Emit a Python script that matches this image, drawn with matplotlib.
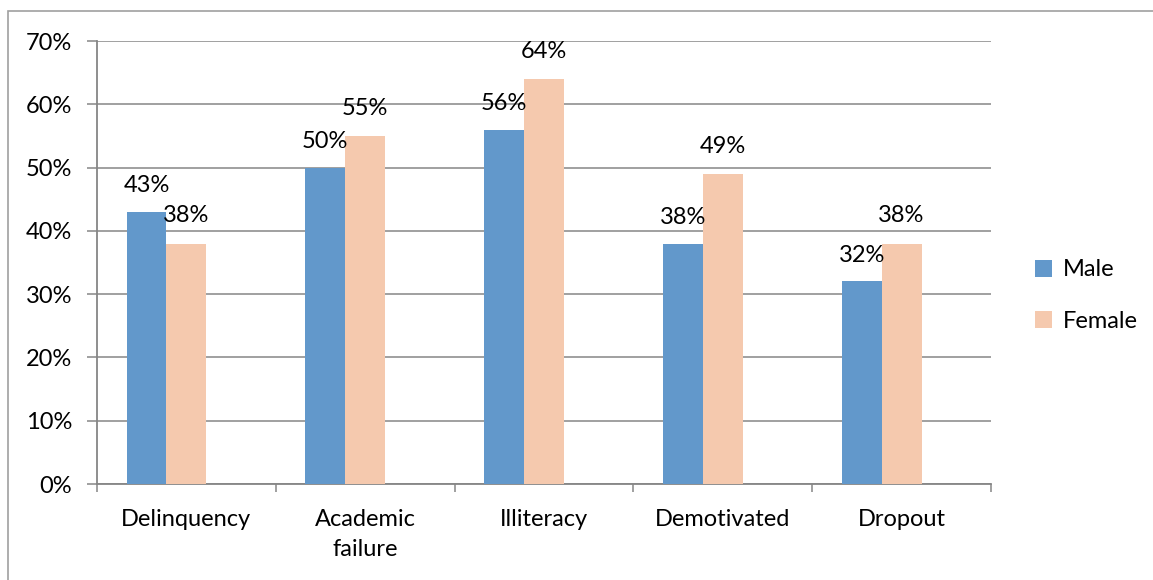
import matplotlib.pyplot as plt
from matplotlib.patches import Rectangle
import numpy as np

categories = ["Delinquency", "Academic\nfailure", "Illiteracy", "Demotivated", "Dropout"]
male = [43, 50, 56, 38, 32]
female = [38, 55, 64, 49, 38]
yticks = [0, 10, 20, 30, 40, 50, 60, 70]

plt.rcParams["font.family"] = ["Lato", "DejaVu Sans"]

fig = plt.figure(figsize=(11.53, 5.80), dpi=100)
ax = fig.add_axes([0.0841, 0.1655, 0.7754, 0.7638])

# outer chart frame (only top/left visible in the reference)
fig.patches.append(Rectangle((8 / 1153, -0.1), 1.2, 1 - 11 / 580 + 0.1,
                             transform=fig.transFigure, fill=False,
                             edgecolor="#a0a0a0", linewidth=1.2))

x = np.arange(len(categories))
w = 0.223
grey = "#868686"
fs = 17

ax.bar(x - w, male, width=w, color="#6298CB", label="Male", zorder=3)
ax.bar(x, female, width=w, color="#F5C9AE", label="Female", zorder=3)

for xi, v in zip(x - w, male):
    ax.annotate(f"{v}%", (xi, v), xytext=(0, 19), textcoords="offset points",
                ha="center", va="center", fontsize=fs, zorder=4)
for xi, v in zip(x, female):
    ax.annotate(f"{v}%", (xi, v), xytext=(0, 20), textcoords="offset points",
                ha="center", va="center", fontsize=fs, zorder=4)

ax.set_xlim(-0.5, len(categories) - 0.5)
ax.set_ylim(0, 70)
ax.set_yticks(yticks)
ax.set_yticklabels([f"{t}%" for t in yticks], fontsize=fs)
ax.yaxis.grid(True, color=grey, linewidth=1.1, zorder=0)

ax.set_xticks(x)
ax.set_xticklabels(categories, fontsize=fs, linespacing=1.55)
ax.set_xticks(np.arange(-0.5, len(categories)), minor=True)
ax.tick_params(axis="x", which="major", length=0, pad=18)
ax.tick_params(axis="x", which="minor", length=6, color=grey, width=1.1)
ax.tick_params(axis="y", length=7, color=grey, width=1.1, pad=11)

for s in ["top", "right"]:
    ax.spines[s].set_visible(False)
for s in ["left", "bottom"]:
    ax.spines[s].set_color(grey)
    ax.spines[s].set_linewidth(1.3)

ax.legend(loc="center left", bbox_to_anchor=(1.025, 0.425), frameon=False,
          fontsize=fs, handlelength=0.75, handleheight=0.75,
          handletextpad=0.45, labelspacing=1.3)

fig.savefig("out.png", dpi=100)
